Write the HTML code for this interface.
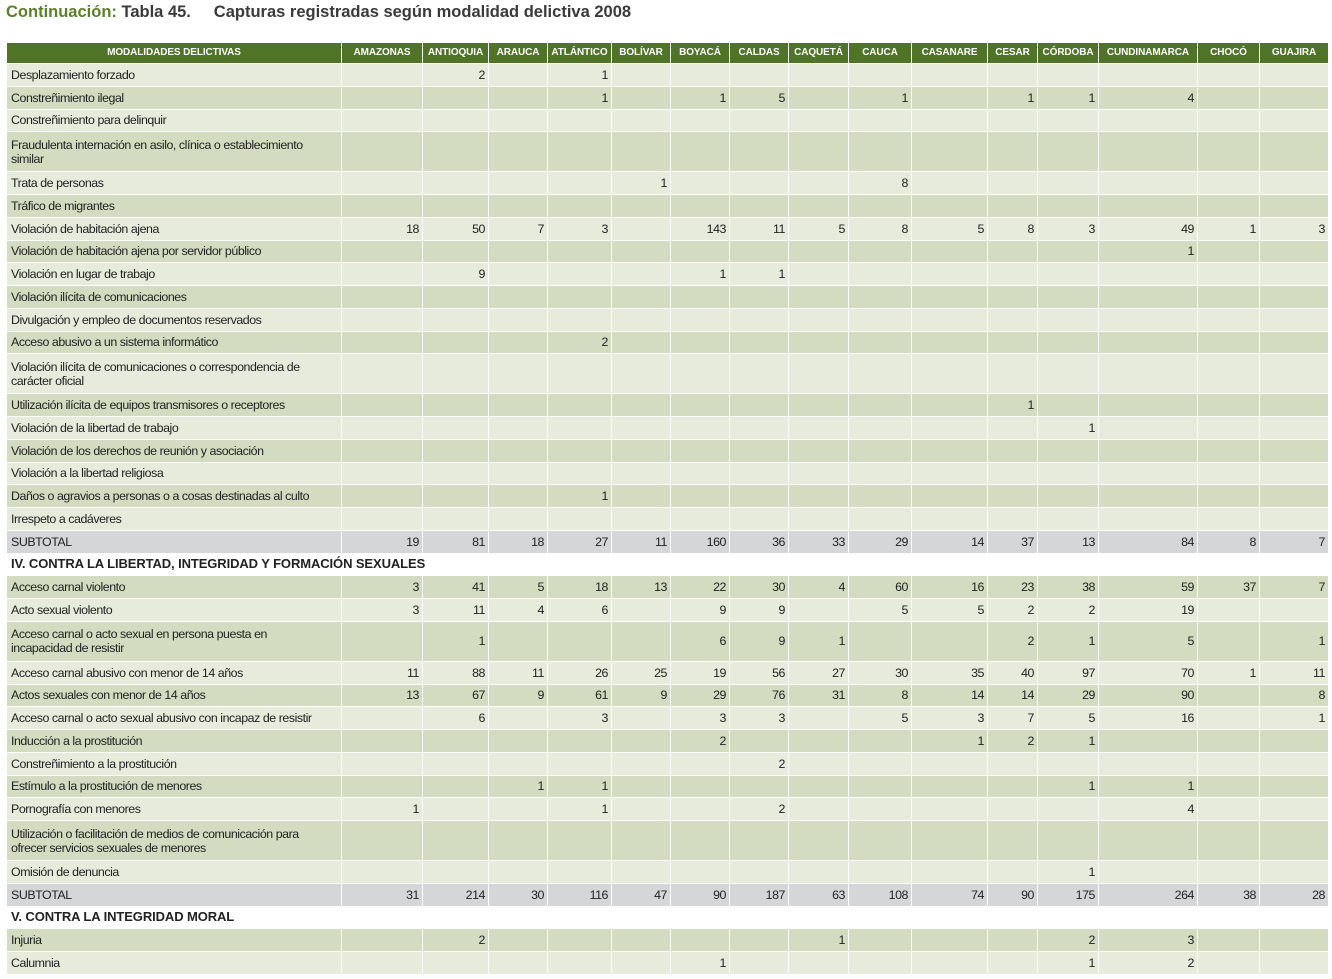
<!DOCTYPE html>
<html><head><meta charset="utf-8">
<style>
body{margin:0;background:#fff;width:1332px;height:979px;overflow:hidden;font-family:"Liberation Sans",sans-serif;}
.t{position:absolute;left:6px;top:3px;font-family:"Liberation Sans",sans-serif;font-weight:bold;font-size:16.5px;color:#3a3a3a;white-space:pre}
.t span{color:#5b8029}
table{position:absolute;left:6px;top:42px;border-collapse:collapse;table-layout:fixed;width:1322px;font-size:12.4px;letter-spacing:-0.45px;color:#222}
td,th{border:1px solid #fff;padding:0 3px 0 4px;text-align:right;overflow:hidden;white-space:nowrap;line-height:14px;box-sizing:border-box}
th{background:#4f7427;color:#fff;font-size:10px;font-weight:bold;text-align:center;height:21px;padding:0;letter-spacing:-0.1px}
td:first-child{text-align:left;white-space:nowrap}
td{height:22.75px}
tr.l td{background:#e6ebdc}
tr.d td{background:#d3dcc1}
tr.s td{background:#d5d6d8}
tr.h td{background:#fff;font-weight:bold;font-size:13px;letter-spacing:-0.1px}
tr.w td{height:40px}
</style></head><body>
<div class="t"><span>Continuación:</span> Tabla 45.     Capturas registradas según modalidad delictiva 2008</div>
<table>
<colgroup><col style="width:335px"><col style="width:81px"><col style="width:66px"><col style="width:59px"><col style="width:64px"><col style="width:59px"><col style="width:59px"><col style="width:59px"><col style="width:60px"><col style="width:63px"><col style="width:76px"><col style="width:50px"><col style="width:61px"><col style="width:99px"><col style="width:62px"><col style="width:69px"></colgroup>
<tr><th>MODALIDADES DELICTIVAS</th><th>AMAZONAS</th><th>ANTIOQUIA</th><th>ARAUCA</th><th>ATLÁNTICO</th><th>BOLÍVAR</th><th>BOYACÁ</th><th>CALDAS</th><th>CAQUETÁ</th><th>CAUCA</th><th>CASANARE</th><th>CESAR</th><th>CÓRDOBA</th><th>CUNDINAMARCA</th><th>CHOCÓ</th><th>GUAJIRA</th></tr>
<tr class="l"><td>Desplazamiento forzado</td><td></td><td>2</td><td></td><td>1</td><td></td><td></td><td></td><td></td><td></td><td></td><td></td><td></td><td></td><td></td><td></td></tr>
<tr class="d"><td>Constreñimiento ilegal</td><td></td><td></td><td></td><td>1</td><td></td><td>1</td><td>5</td><td></td><td>1</td><td></td><td>1</td><td>1</td><td>4</td><td></td><td></td></tr>
<tr class="l"><td>Constreñimiento para delinquir</td><td></td><td></td><td></td><td></td><td></td><td></td><td></td><td></td><td></td><td></td><td></td><td></td><td></td><td></td><td></td></tr>
<tr class="d w"><td>Fraudulenta internación en asilo, clínica o establecimiento<br>similar</td><td></td><td></td><td></td><td></td><td></td><td></td><td></td><td></td><td></td><td></td><td></td><td></td><td></td><td></td><td></td></tr>
<tr class="l"><td>Trata de personas</td><td></td><td></td><td></td><td></td><td>1</td><td></td><td></td><td></td><td>8</td><td></td><td></td><td></td><td></td><td></td><td></td></tr>
<tr class="d"><td>Tráfico de migrantes</td><td></td><td></td><td></td><td></td><td></td><td></td><td></td><td></td><td></td><td></td><td></td><td></td><td></td><td></td><td></td></tr>
<tr class="l"><td>Violación de habitación ajena</td><td>18</td><td>50</td><td>7</td><td>3</td><td></td><td>143</td><td>11</td><td>5</td><td>8</td><td>5</td><td>8</td><td>3</td><td>49</td><td>1</td><td>3</td></tr>
<tr class="d"><td>Violación de habitación ajena por servidor público</td><td></td><td></td><td></td><td></td><td></td><td></td><td></td><td></td><td></td><td></td><td></td><td></td><td>1</td><td></td><td></td></tr>
<tr class="l"><td>Violación en lugar de trabajo</td><td></td><td>9</td><td></td><td></td><td></td><td>1</td><td>1</td><td></td><td></td><td></td><td></td><td></td><td></td><td></td><td></td></tr>
<tr class="d"><td>Violación ilícita de comunicaciones</td><td></td><td></td><td></td><td></td><td></td><td></td><td></td><td></td><td></td><td></td><td></td><td></td><td></td><td></td><td></td></tr>
<tr class="l"><td>Divulgación y empleo de documentos reservados</td><td></td><td></td><td></td><td></td><td></td><td></td><td></td><td></td><td></td><td></td><td></td><td></td><td></td><td></td><td></td></tr>
<tr class="d"><td>Acceso abusivo a un sistema informático</td><td></td><td></td><td></td><td>2</td><td></td><td></td><td></td><td></td><td></td><td></td><td></td><td></td><td></td><td></td><td></td></tr>
<tr class="l w"><td>Violación ilícita de comunicaciones o correspondencia de<br>carácter oficial</td><td></td><td></td><td></td><td></td><td></td><td></td><td></td><td></td><td></td><td></td><td></td><td></td><td></td><td></td><td></td></tr>
<tr class="d"><td>Utilización ilícita de equipos transmisores o receptores</td><td></td><td></td><td></td><td></td><td></td><td></td><td></td><td></td><td></td><td></td><td>1</td><td></td><td></td><td></td><td></td></tr>
<tr class="l"><td>Violación de la libertad de trabajo</td><td></td><td></td><td></td><td></td><td></td><td></td><td></td><td></td><td></td><td></td><td></td><td>1</td><td></td><td></td><td></td></tr>
<tr class="d"><td>Violación de los derechos de reunión y asociación</td><td></td><td></td><td></td><td></td><td></td><td></td><td></td><td></td><td></td><td></td><td></td><td></td><td></td><td></td><td></td></tr>
<tr class="l"><td>Violación a la libertad religiosa</td><td></td><td></td><td></td><td></td><td></td><td></td><td></td><td></td><td></td><td></td><td></td><td></td><td></td><td></td><td></td></tr>
<tr class="d"><td>Daños o agravios a personas o a cosas destinadas al culto</td><td></td><td></td><td></td><td>1</td><td></td><td></td><td></td><td></td><td></td><td></td><td></td><td></td><td></td><td></td><td></td></tr>
<tr class="l"><td>Irrespeto a cadáveres</td><td></td><td></td><td></td><td></td><td></td><td></td><td></td><td></td><td></td><td></td><td></td><td></td><td></td><td></td><td></td></tr>
<tr class="s"><td>SUBTOTAL</td><td>19</td><td>81</td><td>18</td><td>27</td><td>11</td><td>160</td><td>36</td><td>33</td><td>29</td><td>14</td><td>37</td><td>13</td><td>84</td><td>8</td><td>7</td></tr>
<tr class="h"><td colspan="16" style="text-align:left">IV. CONTRA LA LIBERTAD, INTEGRIDAD Y FORMACIÓN SEXUALES</td></tr>
<tr class="d"><td>Acceso carnal violento</td><td>3</td><td>41</td><td>5</td><td>18</td><td>13</td><td>22</td><td>30</td><td>4</td><td>60</td><td>16</td><td>23</td><td>38</td><td>59</td><td>37</td><td>7</td></tr>
<tr class="l"><td>Acto sexual violento</td><td>3</td><td>11</td><td>4</td><td>6</td><td></td><td>9</td><td>9</td><td></td><td>5</td><td>5</td><td>2</td><td>2</td><td>19</td><td></td><td></td></tr>
<tr class="d w"><td>Acceso carnal o acto sexual en persona puesta en<br>incapacidad de resistir</td><td></td><td>1</td><td></td><td></td><td></td><td>6</td><td>9</td><td>1</td><td></td><td></td><td>2</td><td>1</td><td>5</td><td></td><td>1</td></tr>
<tr class="l"><td>Acceso carnal abusivo con menor de 14 años</td><td>11</td><td>88</td><td>11</td><td>26</td><td>25</td><td>19</td><td>56</td><td>27</td><td>30</td><td>35</td><td>40</td><td>97</td><td>70</td><td>1</td><td>11</td></tr>
<tr class="d"><td>Actos sexuales con menor de 14 años</td><td>13</td><td>67</td><td>9</td><td>61</td><td>9</td><td>29</td><td>76</td><td>31</td><td>8</td><td>14</td><td>14</td><td>29</td><td>90</td><td></td><td>8</td></tr>
<tr class="l"><td>Acceso carnal o acto sexual abusivo con incapaz de resistir</td><td></td><td>6</td><td></td><td>3</td><td></td><td>3</td><td>3</td><td></td><td>5</td><td>3</td><td>7</td><td>5</td><td>16</td><td></td><td>1</td></tr>
<tr class="d"><td>Inducción a la prostitución</td><td></td><td></td><td></td><td></td><td></td><td>2</td><td></td><td></td><td></td><td>1</td><td>2</td><td>1</td><td></td><td></td><td></td></tr>
<tr class="l"><td>Constreñimiento a la prostitución</td><td></td><td></td><td></td><td></td><td></td><td></td><td>2</td><td></td><td></td><td></td><td></td><td></td><td></td><td></td><td></td></tr>
<tr class="d"><td>Estímulo a la prostitución de menores</td><td></td><td></td><td>1</td><td>1</td><td></td><td></td><td></td><td></td><td></td><td></td><td></td><td>1</td><td>1</td><td></td><td></td></tr>
<tr class="l"><td>Pornografía con menores</td><td>1</td><td></td><td></td><td>1</td><td></td><td></td><td>2</td><td></td><td></td><td></td><td></td><td></td><td>4</td><td></td><td></td></tr>
<tr class="d w"><td>Utilización o facilitación de medios de comunicación para<br>ofrecer servicios sexuales de menores</td><td></td><td></td><td></td><td></td><td></td><td></td><td></td><td></td><td></td><td></td><td></td><td></td><td></td><td></td><td></td></tr>
<tr class="l"><td>Omisión de denuncia</td><td></td><td></td><td></td><td></td><td></td><td></td><td></td><td></td><td></td><td></td><td></td><td>1</td><td></td><td></td><td></td></tr>
<tr class="s"><td>SUBTOTAL</td><td>31</td><td>214</td><td>30</td><td>116</td><td>47</td><td>90</td><td>187</td><td>63</td><td>108</td><td>74</td><td>90</td><td>175</td><td>264</td><td>38</td><td>28</td></tr>
<tr class="h"><td colspan="16" style="text-align:left">V. CONTRA LA INTEGRIDAD MORAL</td></tr>
<tr class="d"><td>Injuria</td><td></td><td>2</td><td></td><td></td><td></td><td></td><td></td><td>1</td><td></td><td></td><td></td><td>2</td><td>3</td><td></td><td></td></tr>
<tr class="l"><td>Calumnia</td><td></td><td></td><td></td><td></td><td></td><td>1</td><td></td><td></td><td></td><td></td><td></td><td>1</td><td>2</td><td></td><td></td></tr>
</table>
</body></html>
